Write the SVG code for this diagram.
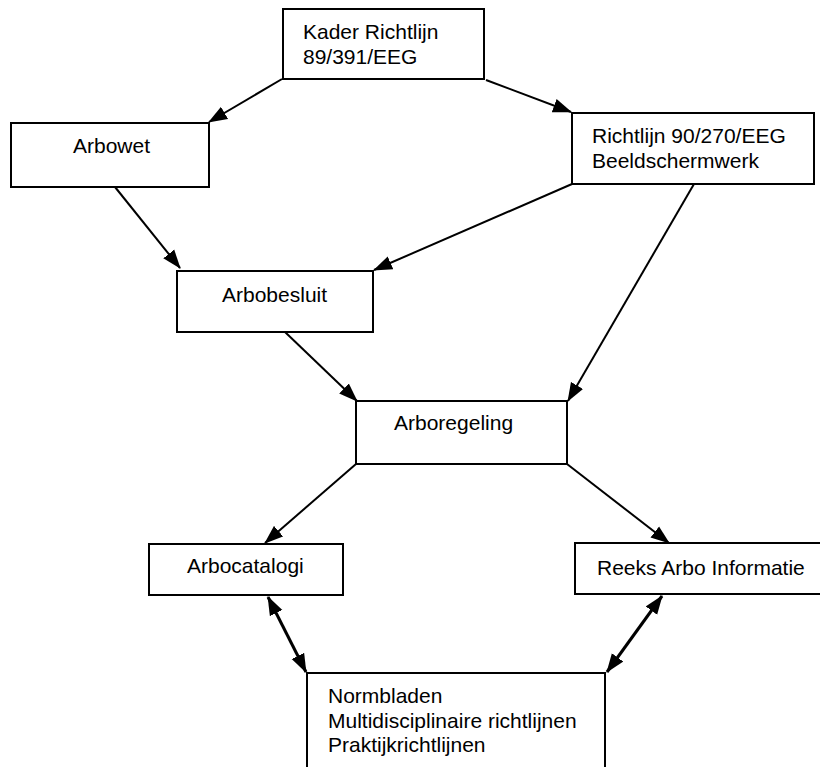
<svg xmlns="http://www.w3.org/2000/svg" width="820" height="767" viewBox="0 0 820 767">
<style>
.box{fill:#fff;stroke:#000;stroke-width:2}
.t{font-family:"Liberation Sans",Arial,sans-serif;font-size:21px;fill:#000}
.c{stroke:#000;stroke-width:2;fill:none}
.d{stroke:#000;stroke-width:3;fill:none}
</style>
<defs>
<marker id="ah" markerUnits="userSpaceOnUse" markerWidth="19" markerHeight="15" refX="18" refY="7" orient="auto-start-reverse" viewBox="0 0 19 14">
<path d="M0,0 L19,7 L0,14 z" fill="#000"/>
</marker>
</defs>
<rect width="820" height="767" fill="#fff"/>
<g id="connectors">
<line class="c" x1="282" y1="79" x2="209" y2="122" marker-end="url(#ah)"/>
<line class="c" x1="486" y1="80" x2="571" y2="112" marker-end="url(#ah)"/>
<line class="c" x1="115" y1="187" x2="180" y2="268" marker-end="url(#ah)"/>
<line class="c" x1="572" y1="184" x2="374" y2="270" marker-end="url(#ah)"/>
<line class="c" x1="694" y1="184" x2="568" y2="401" marker-end="url(#ah)"/>
<line class="c" x1="285" y1="332" x2="357" y2="401" marker-end="url(#ah)"/>
<line class="c" x1="356" y1="464" x2="265" y2="543" marker-end="url(#ah)"/>
<line class="c" x1="567" y1="464" x2="669" y2="543" marker-end="url(#ah)"/>
<line class="d" x1="268" y1="597" x2="306" y2="672" marker-start="url(#ah)" marker-end="url(#ah)"/>
<line class="d" x1="662" y1="596" x2="607" y2="672" marker-start="url(#ah)" marker-end="url(#ah)"/>
</g>
<g id="kader">
<rect class="box" x="283" y="9" width="201" height="70"/>
<text class="t" x="303" y="39">Kader Richtlijn</text>
<text class="t" x="303" y="64">89/391/EEG</text>
</g>
<g id="arbowet">
<rect class="box" x="11" y="123" width="198" height="64"/>
<text class="t" x="73" y="153">Arbowet</text>
</g>
<g id="richtlijn">
<rect class="box" x="572" y="113" width="242" height="71"/>
<text class="t" x="592" y="143">Richtlijn 90/270/EEG</text>
<text class="t" x="592" y="168">Beeldschermwerk</text>
</g>
<g id="arbobesluit">
<rect class="box" x="177" y="271" width="196" height="61"/>
<text class="t" x="222" y="302">Arbobesluit</text>
</g>
<g id="arboregeling">
<rect class="box" x="356" y="401" width="211" height="63"/>
<text class="t" x="394" y="430">Arboregeling</text>
</g>
<g id="arbocatalogi">
<rect class="box" x="149" y="544" width="194" height="51"/>
<text class="t" x="187" y="573">Arbocatalogi</text>
</g>
<g id="reeks">
<rect class="box" x="575" y="543" width="255" height="51"/>
<text class="t" x="597" y="575">Reeks Arbo Informatie</text>
</g>
<g id="normbladen">
<rect class="box" x="307" y="673" width="298" height="100"/>
<text class="t" x="328" y="703">Normbladen</text>
<text class="t" x="328" y="728">Multidisciplinaire richtlijnen</text>
<text class="t" x="328" y="752">Praktijkrichtlijnen</text>
</g>
</svg>
